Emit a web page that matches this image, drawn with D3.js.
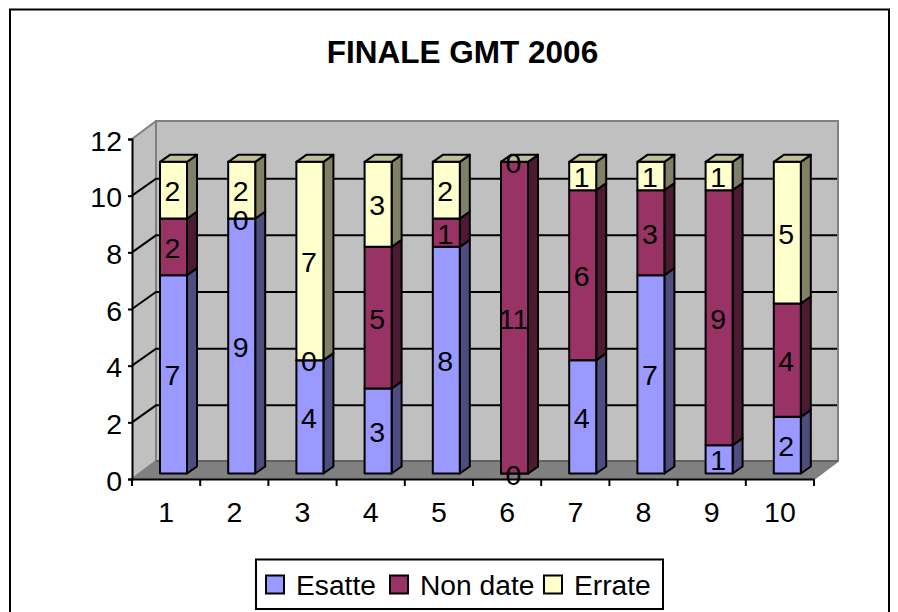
<!DOCTYPE html>
<html>
<head>
<meta charset="utf-8">
<script src="https://cdn.jsdelivr.net/npm/d3@7/dist/d3.min.js"></script>
<style>
    html, body { margin: 0; padding: 0; background: #fff; overflow: hidden; }
    svg { display: block; }
    text { font-family: "Liberation Sans", Arial, sans-serif; fill: #000; }
</style>
</head>
<body>
<div id="chart"></div>
<script>
const rounds = ['1', '2', '3', '4', '5', '6', '7', '8', '9', '10'];
const esatte = [7, 9, 4, 3, 8, 0, 4, 7, 1, 2];
const nonDate = [2, 0, 0, 5, 1, 11, 6, 3, 9, 4];
const errate = [2, 2, 7, 3, 2, 0, 1, 1, 1, 5];
const seriesNames = ['Esatte', 'Non date', 'Errate'];
const yTicks = [0, 2, 4, 6, 8, 10, 12];

const width = 898, height = 612;
const fontSize = 28.5;

// front colour and side colour per series
const colors = [
    {front: '#9999ff', side: '#4d4d80'},
    {front: '#993366', side: '#4d1a33'},
    {front: '#ffffcc', side: '#808066'}
];
const topColor = '#bfbf99';

const svg = d3.select('#chart').append('svg')
    .attr('width', width)
    .attr('height', height);

// chart frame, cut by the bottom of the picture
svg.append('path')
    .attr('d', 'M10,612V9.5H889V612')
    .attr('fill', 'none')
    .attr('stroke', '#000')
    .attr('stroke-width', 2);

svg.append('text')
    .attr('x', 462.5)
    .attr('y', 63)
    .attr('text-anchor', 'middle')
    .style('font-size', '31.5px')
    .style('font-weight', 'bold')
    .text('FINALE GMT 2006');

const xScale = d3.scaleBand().domain(rounds).range([132, 814]);
const yScale = d3.scaleLinear().domain([0, 12]).range([479, 139]);

// 3D offsets: back of the box and of the bars
const wallDx = 24, wallDy = -18;
const barDx = 28, barDy = -5.5, barWidth = 27, depthX = 10, depthY = -7;

const y0 = yScale(0), y12 = yScale(12), xL = xScale.range()[0], xR = xScale.range()[1];

const walls = svg.append('g');

// floor
walls.append('path')
    .attr('d', `M${xL},${y0}L${xL + wallDx},${y0 + wallDy}H${xR + wallDx}L${xR},${y0}Z`)
    .attr('fill', '#808080');

// side wall
walls.append('path')
    .attr('d', `M${xL},${y0}V${y12}L${xL + wallDx},${y12 + wallDy}V${y0 + wallDy}Z`)
    .attr('fill', '#c0c0c0');

// back wall
walls.append('rect')
    .attr('x', xL + wallDx)
    .attr('y', y12 + wallDy)
    .attr('width', xR - xL)
    .attr('height', y0 - y12)
    .attr('fill', '#c0c0c0')
    .attr('stroke', '#808080')
    .attr('stroke-width', 2);

walls.append('path')
    .attr('d', `M${xL},${y0}L${xL + wallDx},${y0 + wallDy}M${xL},${y12}L${xL + wallDx},${y12 + wallDy}M${xR},${y0}L${xR + wallDx},${y0 + wallDy}`)
    .attr('fill', 'none')
    .attr('stroke', '#808080')
    .attr('stroke-width', 2);

// darker line where the floor meets the back wall
walls.append('line')
    .attr('x1', xL + wallDx)
    .attr('x2', xR + wallDx)
    .attr('y1', y0 + wallDy)
    .attr('y2', y0 + wallDy)
    .attr('stroke', '#606060')
    .attr('stroke-width', 2);

// gridlines run along the side wall and then the back wall
walls.selectAll('.grid')
    .data(yTicks.filter(d => d > 0 && d < 12))
    .join('path')
    .attr('class', 'grid')
    .attr('d', d => `M${xL},${yScale(d)}L${xL + wallDx},${yScale(d) + wallDy + 1}H${xR + wallDx - 1}`)
    .attr('fill', 'none')
    .attr('stroke', '#000')
    .attr('stroke-width', 2);

// axes
const xAxis = d3.axisBottom(xScale).tickSizeOuter(0).tickSize(0).tickPadding(23);
const yAxis = d3.axisLeft(yScale).tickValues(yTicks).tickSizeOuter(0).tickSize(4).tickPadding(6);

const xAxisG = svg.append('g')
    .attr('transform', `translate(0,${y0})`)
    .call(xAxis);
xAxisG.selectAll('text').style('font-size', fontSize + 'px');
xAxisG.select('.domain').attr('stroke', '#000').attr('stroke-width', 2);

// ticks fall between the categories
xAxisG.selectAll('.sep')
    .data(d3.range(rounds.length + 1))
    .join('line')
    .attr('class', 'sep')
    .attr('x1', i => xL + i * xScale.step())
    .attr('x2', i => xL + i * xScale.step())
    .attr('y1', 0)
    .attr('y2', 7)
    .attr('stroke', '#000')
    .attr('stroke-width', 2);

const yAxisG = svg.append('g')
    .attr('transform', `translate(${xL},0)`)
    .call(yAxis);
yAxisG.selectAll('text').style('font-size', fontSize + 'px').attr('y', 2);
yAxisG.selectAll('line').attr('stroke', '#000').attr('stroke-width', 2);
yAxisG.select('.domain').attr('stroke', '#000').attr('stroke-width', 2);

// bars
const stackData = rounds.map((r, i) => ({round: r, Esatte: esatte[i], 'Non date': nonDate[i], Errate: errate[i]}));
const stacked = d3.stack().keys(seriesNames)(stackData);
const outline = {stroke: '#000', 'stroke-width': 2, 'stroke-linejoin': 'round'};

function face(sel, d, fill) {
    const p = sel.append('path').attr('d', d).attr('fill', fill);
    Object.entries(outline).forEach(([k, v]) => p.attr(k, v));
}

const barsG = svg.append('g');
rounds.forEach((r, i) => {
    const x1 = xScale(r) + barDx, x2 = x1 + barWidth;
    const g = barsG.append('g').attr('class', 'bar');
    stacked.forEach((s, k) => {
        const yA = yScale(s[i][0]) + barDy, yB = yScale(s[i][1]) + barDy;
        face(g, `M${x2},${yA}L${x2 + depthX},${yA + depthY}V${yB + depthY}L${x2},${yB}Z`, colors[k].side);
        face(g, `M${x1},${yA}H${x2}V${yB}H${x1}Z`, colors[k].front);
    });
    // top face belongs to the last series, even when its value is 0
    const yT = yScale(stacked[2][i][1]) + barDy;
    face(g, `M${x1},${yT}L${x1 + depthX},${yT + depthY}H${x2 + depthX}L${x2},${yT}Z`, topColor);
});

// value labels on top of all bars
const labels = svg.append('g').style('font-size', fontSize + 'px').attr('text-anchor', 'middle');
stacked.forEach(s => {
    labels.selectAll(null)
        .data(s)
        .join('text')
        .attr('x', (d, i) => xScale(rounds[i]) + barDx + barWidth / 2 - 1)
        .attr('y', d => yScale((d[0] + d[1]) / 2) + barDy + 11)
        .text(d => d[1] - d[0]);
});

// legend
const legendBoxes = [266, 390, 544];
const legendTexts = [296, 420, 574];
const legend = svg.append('g');
legend.append('rect')
    .attr('x', 256)
    .attr('y', 559.5)
    .attr('width', 407)
    .attr('height', 49.5)
    .attr('fill', '#fff')
    .attr('stroke', '#000')
    .attr('stroke-width', 2);
seriesNames.forEach((name, k) => {
    legend.append('rect')
        .attr('x', legendBoxes[k])
        .attr('y', 575.5)
        .attr('width', 18)
        .attr('height', 18)
        .attr('fill', colors[k].front)
        .attr('stroke', '#000')
        .attr('stroke-width', 2);
    legend.append('text')
        .attr('x', legendTexts[k])
        .attr('y', 595)
        .style('font-size', '28.2px')
        .text(name);
});
</script>
</body>
</html>
